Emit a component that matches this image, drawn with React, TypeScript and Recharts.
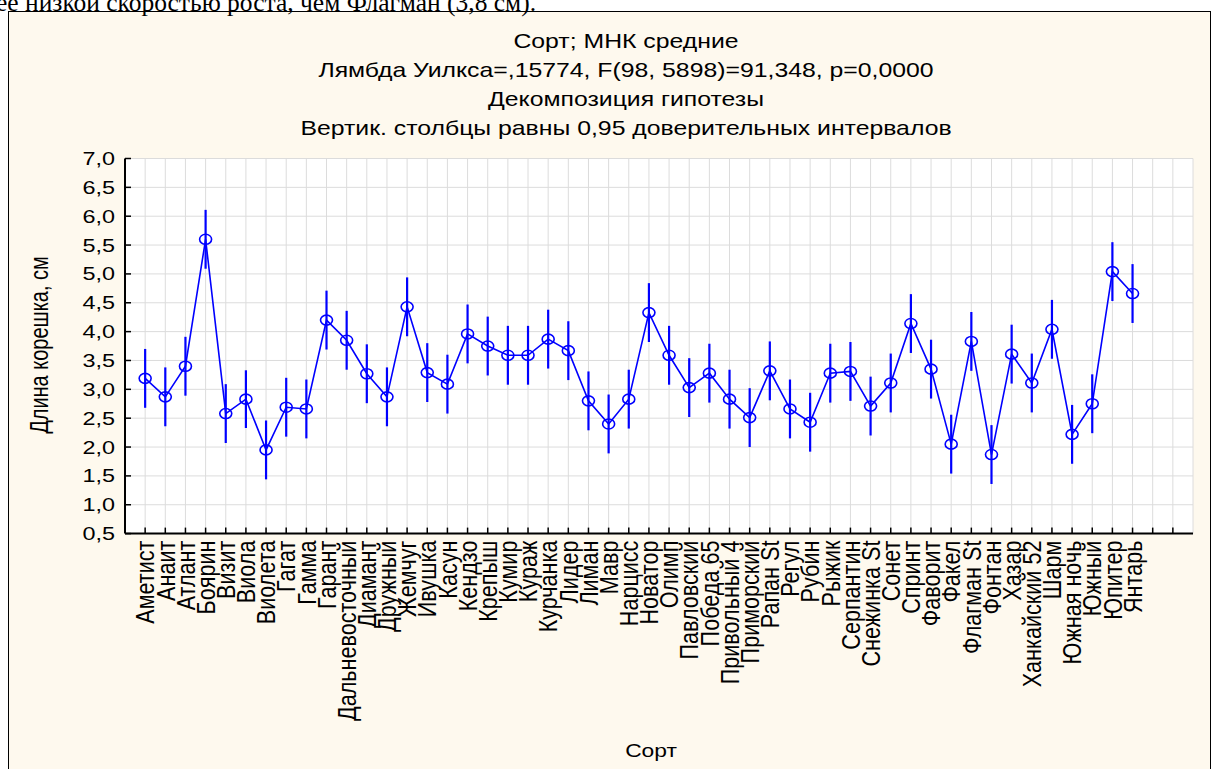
import React from 'react';
import { ComposedChart, Line, XAxis, YAxis, CartesianGrid, ErrorBar } from 'recharts';

// Сорта (категории по оси X)
const varieties = [
  'Аметист', 'Анаит', 'Атлант', 'Боярин', 'Визит', 'Виола', 'Виолета', 'Гагат', 'Гамма', 'Гарант',
  'Дальневосточный', 'Диамант', 'Дружный', 'Жемчуг', 'Ивушка', 'Касун', 'Кендзо', 'Крепыш', 'Кумир', 'Кураж',
  'Курчанка', 'Лидер', 'Лиман', 'Мавр', 'Нарцисс', 'Новатор', 'Олимп', 'Павловский', 'Победа 65', 'Привольный 4',
  'Приморский', 'Рапан St', 'Регул', 'Рубин', 'Рыжик', 'Серпантин', 'Снежинка St', 'Сонет', 'Спринт', 'Фаворит',
  'Факел', 'Флагман St', 'Фонтан', 'Хазар', 'Ханкайский 52', 'Шарм', 'Южная ночь', 'Южный', 'Юпитер', 'Янтарь',
];

// МНК средние, длина корешка (см)
const means = [
  3.19, 2.87, 3.40, 5.60, 2.58, 2.83, 1.95, 2.69, 2.66, 4.20,
  3.85, 3.27, 2.87, 4.43, 3.29, 3.09, 3.96, 3.75, 3.59, 3.59,
  3.87, 3.67, 2.80, 2.40, 2.83, 4.33, 3.59, 3.03, 3.28, 2.83,
  2.51, 3.32, 2.66, 2.43, 3.28, 3.31, 2.71, 3.11, 4.14, 3.35,
  2.05, 3.83, 1.87, 3.61, 3.11, 4.04, 2.22, 2.75, 5.04, 4.66,
];

// полуширина 0,95 доверительного интервала
const ci = [
  0.51, 0.51, 0.51, 0.51, 0.51, 0.50, 0.51, 0.51, 0.51, 0.51,
  0.51, 0.51, 0.51, 0.51, 0.51, 0.51, 0.51, 0.51, 0.51, 0.51,
  0.51, 0.51, 0.51, 0.51, 0.51, 0.51, 0.51, 0.51, 0.51, 0.51,
  0.51, 0.51, 0.51, 0.51, 0.51, 0.51, 0.51, 0.51, 0.51, 0.51,
  0.51, 0.51, 0.51, 0.51, 0.51, 0.51, 0.51, 0.51, 0.51, 0.51,
];

const yTicks = [0.5, 1, 1.5, 2, 2.5, 3, 3.5, 4, 4.5, 5, 5.5, 6, 6.5, 7];
const xTicks = Array.from({ length: 52 }, (_, i) => i + 1);

const titleLines = [
  'Сорт; МНК средние',
  'Лямбда Уилкса=,15774, F(98, 5898)=91,348, p=0,0000',
  'Декомпозиция гипотезы',
  'Вертик. столбцы равны 0,95 доверительных интервалов',
];

const data = varieties.map((name, i) => ({ x: i + 1, name, mean: means[i], ci: ci[i] }));

const FONT = '"Liberation Sans", Arial, sans-serif';
const SX = 1.3; // картинка растянута по горизонтали
const BLUE = '#0000ff';

const BottomTick = ({ x, y, payload }: any) => {
  const label = varieties[payload.value - 1];
  return (
    <g>
      <line x1={x} y1={y} x2={x} y2={y - 6} stroke="#000" strokeWidth={1.5} />
      {label && (
        <text
          transform={`translate(${x},${y + 7}) scale(1.2,1) rotate(-90)`}
          textAnchor="end"
          dominantBaseline="central"
          fontFamily={FONT}
          fontSize={21.6}
          fill="#000"
        >
          {label}
        </text>
      )}
    </g>
  );
};

const TopTick = ({ x, y }: any) => (
  <line x1={x} y1={y} x2={x} y2={y + 6} stroke="#000" strokeWidth={1.5} />
);

const LeftTick = ({ x, y, payload }: any) => (
  <g>
    <line x1={x} y1={y} x2={x + 6} y2={y} stroke="#000" strokeWidth={1.5} />
    <text
      transform={`translate(${x - 10},${y}) scale(${SX},1)`}
      textAnchor="end"
      dominantBaseline="central"
      fontFamily={FONT}
      fontSize={18}
      fill="#000"
    >
      {payload.value.toFixed(1).replace('.', ',')}
    </text>
  </g>
);

const RightTick = ({ x, y }: any) => (
  <line x1={x} y1={y} x2={x - 6} y2={y} stroke="#000" strokeWidth={1.5} />
);

const Dot = ({ cx, cy, index }: any) => (
  <ellipse key={`d-${index}`} cx={cx} cy={cy} rx={6} ry={5} fill="none" stroke={BLUE} strokeWidth={1.6} />
);

export default function App() {
  return (
    <div style={{ position: 'absolute', left: 0, top: 0, width: 1217, height: 769, overflow: 'hidden', background: '#fff' }}>
      <div
        style={{
          position: 'absolute', left: 8, top: 11, width: 1201, height: 800,
          border: '1px solid #000', background: '#fef9ee',
        }}
      />
      <div style={{ position: 'absolute', left: 9, top: 12 }}>
        <ComposedChart
          width={1200}
          height={757}
          data={data}
          margin={{ top: 146.5, right: 16, left: 0, bottom: 0 }}
        >
          <CartesianGrid stroke="#dcdcdc" strokeWidth={1} fill="#ffffff" />
          <XAxis
            dataKey="x"
            type="number"
            domain={[0, 53]}
            ticks={xTicks}
            interval={0}
            height={235.4}
            tickSize={0}
            tickMargin={0}
            tickLine={false}
            axisLine={{ stroke: '#000', strokeWidth: 2 }}
            tick={<BottomTick />}
          />
          <XAxis
            xAxisId="top"
            dataKey="x"
            type="number"
            orientation="top"
            domain={[0, 53]}
            ticks={xTicks}
            interval={0}
            height={0}
            tickSize={0}
            tickMargin={0}
            tickLine={false}
            axisLine={{ stroke: '#000', strokeWidth: 2 }}
            tick={<TopTick />}
          />
          <YAxis
            type="number"
            domain={[0.5, 7]}
            ticks={yTicks}
            interval={0}
            width={116}
            tickSize={0}
            tickMargin={0}
            tickLine={false}
            axisLine={{ stroke: '#000', strokeWidth: 2 }}
            tick={<LeftTick />}
          />
          <YAxis
            yAxisId="right"
            type="number"
            orientation="right"
            domain={[0.5, 7]}
            ticks={yTicks}
            interval={0}
            width={0}
            tickSize={0}
            tickMargin={0}
            tickLine={false}
            axisLine={{ stroke: '#000', strokeWidth: 2 }}
            tick={<RightTick />}
          />
          <Line
            type="linear"
            dataKey="mean"
            stroke={BLUE}
            strokeWidth={1.6}
            dot={<Dot />}
            activeDot={false}
            isAnimationActive={false}
          >
            <ErrorBar dataKey="ci" width={0} stroke={BLUE} strokeWidth={2.2} direction="y" />
          </Line>
        </ComposedChart>
      </div>
      <svg width={1217} height={769} style={{ position: 'absolute', left: 0, top: 0, pointerEvents: 'none' }}>
        <text x={-4} y={10.5} fontFamily='"Liberation Serif", "Times New Roman", serif' fontSize={25.5} fill="#000">
          ее низкой скоростью роста, чем Флагман (3,8 см).
        </text>
        {titleLines.map((t, i) => (
          <text
            key={t}
            transform={`translate(626,${48 + i * 29}) scale(1.24,1)`}
            textAnchor="middle"
            fontFamily={FONT}
            fontSize={20}
            fill="#000"
          >
            {t}
          </text>
        ))}
        <text
          transform={`translate(40,345) scale(1.25,1) rotate(-90)`}
          textAnchor="middle"
          dominantBaseline="central"
          fontFamily={FONT}
          fontSize={20}
          fill="#000"
        >
          Длина корешка, см
        </text>
        <text
          transform={`translate(651,757) scale(1.2,1)`}
          textAnchor="middle"
          fontFamily={FONT}
          fontSize={19}
          fill="#000"
        >
          Сорт
        </text>
      </svg>
    </div>
  );
}
